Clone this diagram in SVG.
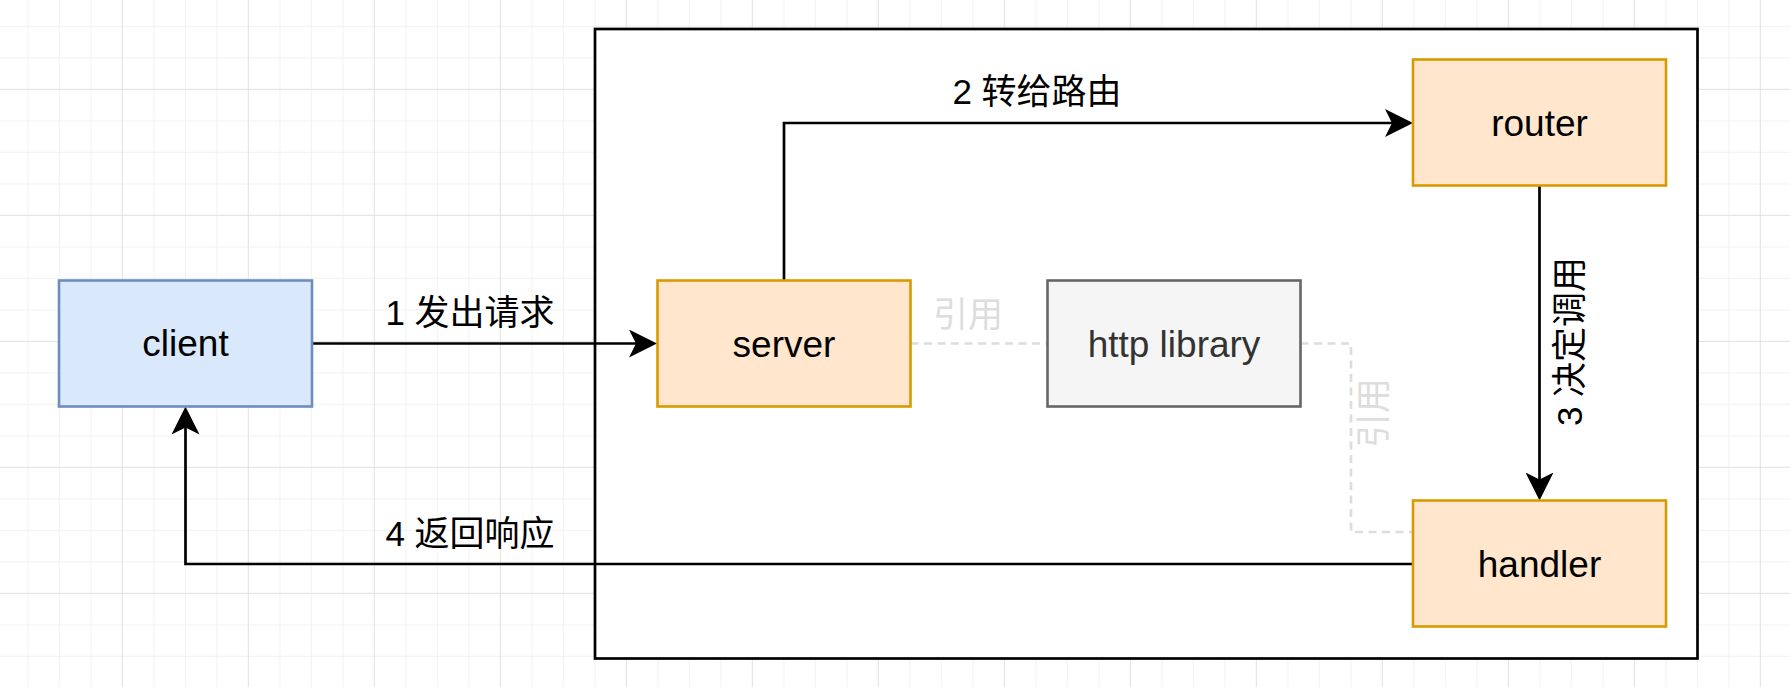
<svg xmlns="http://www.w3.org/2000/svg" width="1790" height="687" viewBox="0 0 1790 687">
  <style>
    .node-text { font-family: "Liberation Sans", "Noto Sans CJK SC", sans-serif; font-size: 37px; text-anchor: middle; fill: #000000; }
    .edge-label { font-family: "Liberation Sans", "Noto Sans CJK SC", sans-serif; font-size: 35px; text-anchor: middle; fill: #000000; }
    .ref-label { font-family: "Liberation Sans", "Noto Sans CJK SC", sans-serif; font-size: 35px; text-anchor: middle; fill: #dddddd; }
    .orange { fill: #ffe6cc; stroke: #d79b00; stroke-width: 2.6; }
    .blue { fill: #dae8fc; stroke: #6c8ebf; stroke-width: 2.6; }
    .gray { fill: #f5f5f5; stroke: #666666; stroke-width: 2.6; }
    .flow { fill: none; stroke: #000000; stroke-width: 2.7; }
    .ref { fill: none; stroke: #dddddd; stroke-width: 2.7; stroke-dasharray: 8 5.5; }
  </style>
  <defs>
    <pattern id="grid" patternUnits="userSpaceOnUse" x="-4.2" y="-37.2" width="126" height="126">
      <rect width="126" height="126" fill="#ffffff"/>
      <path d="M32 0V126M63.5 0V126M95 0V126M0 32H126M0 63.5H126M0 95H126" stroke="#f1f1f1" stroke-width="1"/>
      <path d="M0.5 0V126M0 0.5H126" stroke="#e0e0e0" stroke-width="1"/>
    </pattern>
    <marker id="arrow" markerUnits="userSpaceOnUse" viewBox="0 0 28 28" markerWidth="28" markerHeight="28" refX="21" refY="14" orient="auto">
      <path d="M0,0 L28,14 L0,28 L7,14 Z" fill="#000000"/>
    </marker>
  </defs>

  <rect x="0" y="0" width="1790" height="687" fill="url(#grid)"/>

  <g id="container">
    <rect x="595" y="29" width="1102.5" height="629.5" fill="#ffffff" stroke="#000000" stroke-width="2.7"/>
  </g>

  <g id="connectors">
    <path class="ref" d="M910.5 343.5 H1047.5"/>
    <path class="ref" d="M1300.5 343.5 H1351 V532 H1413"/>
    <path class="flow" d="M312 343.5 H650" marker-end="url(#arrow)"/>
    <path class="flow" d="M784 280.5 V123 H1406" marker-end="url(#arrow)"/>
    <path class="flow" d="M1539.5 186 V493.5" marker-end="url(#arrow)"/>
    <path class="flow" d="M1413 564 H185.5 V413.5" marker-end="url(#arrow)"/>
    <text class="edge-label" x="470" y="324.5">1 发出请求</text>
    <text class="edge-label" x="1037" y="104.3">2 转给路由</text>
    <text class="edge-label" transform="translate(1581.5 341.5) rotate(-90)">3 决定调用</text>
    <text class="edge-label" x="470" y="546">4 返回响应</text>
    <text class="ref-label" x="968" y="327">引用</text>
    <text class="ref-label" transform="translate(1386 413) rotate(-90)">引用</text>
  </g>

  <g id="client">
    <rect class="blue" x="59" y="280.5" width="253" height="126"/>
    <text class="node-text" x="185.5" y="356">client</text>
  </g>

  <g id="server">
    <rect class="orange" x="657.5" y="280.5" width="253" height="126"/>
    <text class="node-text" x="784" y="356.5">server</text>
  </g>

  <g id="http-library">
    <rect class="gray" x="1047.5" y="280.5" width="253" height="126"/>
    <text class="node-text" x="1174" y="356.5" style="fill:#333333">http library</text>
  </g>

  <g id="router">
    <rect class="orange" x="1413" y="59.5" width="253" height="126"/>
    <text class="node-text" x="1539.5" y="135.5">router</text>
  </g>

  <g id="handler">
    <rect class="orange" x="1413" y="500.5" width="253" height="126"/>
    <text class="node-text" x="1539.5" y="576.5">handler</text>
  </g>
</svg>
